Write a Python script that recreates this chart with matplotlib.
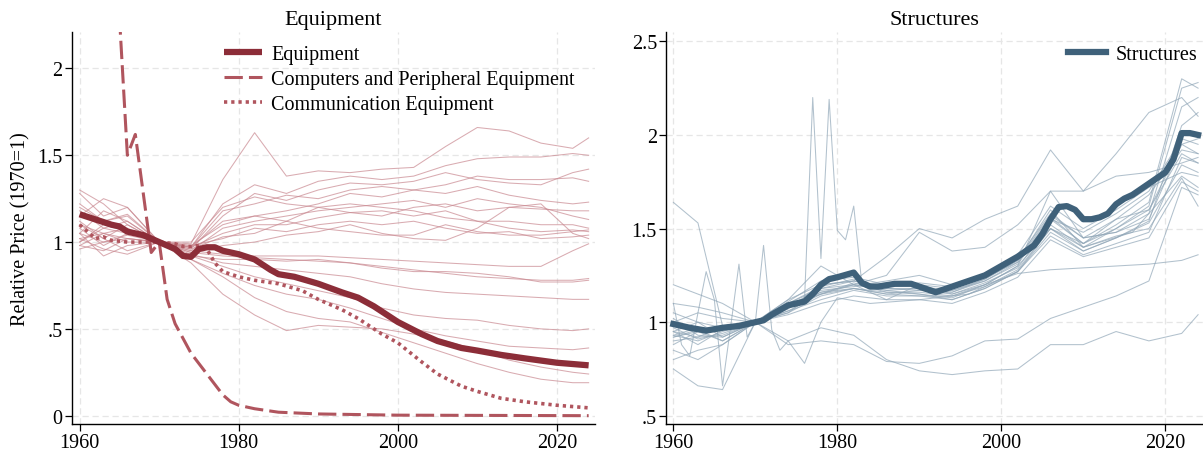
import numpy as np
import matplotlib
matplotlib.use("Agg")
import matplotlib.pyplot as plt

# ── Data ─────────────────────────────────────────────────────────────────────
EQ_YEARS = [1960, 1962, 1964, 1965, 1966, 1968, 1970, 1972, 1973, 1974, 1975, 1976,
            1977, 1978, 1980, 1982, 1984, 1985, 1987, 1990, 1993, 1995, 1997, 2000,
            2003, 2005, 2008, 2010, 2013, 2016, 2020, 2024]
EQUIPMENT = [1.16, 1.13, 1.10, 1.09, 1.06, 1.04, 1.00, 0.96, 0.92, 0.915, 0.96, 0.97,
             0.97, 0.95, 0.93, 0.90, 0.84, 0.815, 0.80, 0.76, 0.71, 0.68, 0.63, 0.54,
             0.47, 0.43, 0.39, 0.375, 0.35, 0.33, 0.305, 0.29]

COMP_YEARS = [1965, 1966, 1967, 1968, 1969, 1970, 1971, 1972, 1974, 1976, 1978, 1979,
              1980, 1982, 1985, 1990, 2000, 2024]
COMPUTERS = [2.30, 1.50, 1.62, 1.28, 0.94, 1.00, 0.67, 0.53, 0.36, 0.24, 0.12, 0.08,
             0.06, 0.04, 0.02, 0.01, 0.003, 0.0]

COMM_YEARS = [1960, 1961, 1962, 1963, 1964, 1966, 1968, 1970, 1972, 1973, 1974, 1975,
              1976, 1977, 1978, 1980, 1982, 1985, 1988, 1990, 1993, 1995, 1998, 2000,
              2003, 2005, 2008, 2010, 2013, 2016, 2020, 2024]
COMMUNICATION = [1.10, 1.06, 1.02, 1.03, 1.01, 1.00, 1.00, 1.00, 0.99, 0.975, 0.975, 0.98,
                 0.96, 0.88, 0.83, 0.80, 0.78, 0.76, 0.72, 0.67, 0.61, 0.56, 0.47, 0.42,
                 0.31, 0.24, 0.17, 0.14, 0.10, 0.08, 0.06, 0.045]

# detailed asset types, sampled on a common grid of years
GRID = [1960, 1963, 1966, 1970, 1974, 1978, 1982, 1986, 1990, 1994, 1998, 2002,
        2006, 2010, 2014, 2018, 2022, 2024]

EQ_DETAIL = [
    [1.20, 1.12, 1.16, 1.00, 0.99, 1.36, 1.63, 1.38, 1.41, 1.40, 1.42, 1.43, 1.55, 1.66, 1.64, 1.57, 1.54, 1.60],
    [1.30, 1.22, 1.10, 1.00, 0.97, 1.22, 1.33, 1.28, 1.35, 1.38, 1.36, 1.38, 1.44, 1.48, 1.49, 1.49, 1.51, 1.50],
    [1.10, 1.05, 1.08, 1.00, 0.96, 1.15, 1.28, 1.24, 1.30, 1.34, 1.33, 1.35, 1.40, 1.36, 1.34, 1.33, 1.40, 1.42],
    [1.05, 1.18, 1.12, 1.00, 0.97, 1.18, 1.22, 1.27, 1.25, 1.30, 1.32, 1.30, 1.33, 1.38, 1.36, 1.36, 1.37, 1.35],
    [1.15, 1.25, 1.20, 1.00, 0.98, 1.10, 1.15, 1.18, 1.22, 1.28, 1.26, 1.30, 1.28, 1.32, 1.27, 1.24, 1.22, 1.23],
    [1.00, 1.08, 1.05, 1.00, 0.95, 1.08, 1.12, 1.15, 1.18, 1.20, 1.22, 1.24, 1.20, 1.25, 1.22, 1.20, 1.15, 1.13],
    [1.12, 1.02, 1.10, 1.00, 0.97, 1.05, 1.10, 1.10, 1.14, 1.17, 1.18, 1.15, 1.18, 1.12, 1.12, 1.10, 1.10, 1.08],
    [0.98, 1.05, 1.02, 1.00, 0.96, 1.03, 1.05, 1.12, 1.20, 1.22, 1.20, 1.18, 1.14, 1.12, 1.08, 1.06, 1.07, 1.06],
    [1.22, 1.12, 1.15, 1.00, 0.98, 1.02, 1.08, 1.06, 1.10, 1.12, 1.10, 1.12, 1.08, 1.05, 1.06, 1.02, 1.03, 1.04],
    [1.08, 0.98, 1.05, 1.00, 0.94, 0.98, 1.00, 1.04, 1.06, 1.10, 1.05, 1.02, 1.01, 1.08, 1.20, 1.22, 1.05, 1.02],
    [1.28, 1.15, 1.20, 1.00, 1.00, 1.20, 1.26, 1.22, 1.20, 1.17, 1.15, 1.20, 1.22, 1.18, 1.20, 1.19, 1.18, 1.18],
    [1.00, 1.10, 1.06, 1.00, 0.97, 1.12, 1.15, 1.12, 1.08, 1.06, 1.04, 1.04, 1.10, 1.06, 1.04, 1.04, 1.06, 1.07],
    [1.05, 1.00, 1.02, 1.00, 0.95, 0.93, 0.92, 0.92, 0.92, 0.91, 0.90, 0.89, 0.88, 0.87, 0.86, 0.86, 0.95, 0.99],
    [1.02, 1.05, 1.00, 1.00, 0.94, 0.92, 0.91, 0.90, 0.89, 0.88, 0.86, 0.84, 0.82, 0.80, 0.79, 0.78, 0.78, 0.79],
    [0.98, 0.95, 1.02, 1.00, 0.92, 0.90, 0.90, 0.89, 0.90, 0.88, 0.85, 0.83, 0.83, 0.82, 0.80, 0.77, 0.77, 0.78],
    [1.10, 1.02, 0.95, 1.00, 0.93, 0.88, 0.86, 0.84, 0.82, 0.80, 0.76, 0.73, 0.71, 0.70, 0.69, 0.68, 0.67, 0.67],
    [1.18, 1.08, 1.12, 1.00, 0.92, 0.86, 0.80, 0.76, 0.72, 0.68, 0.62, 0.58, 0.56, 0.55, 0.52, 0.50, 0.49, 0.50],
    [1.02, 0.96, 0.93, 1.00, 0.90, 0.82, 0.75, 0.70, 0.67, 0.62, 0.56, 0.50, 0.46, 0.43, 0.40, 0.39, 0.38, 0.39],
    [0.96, 1.00, 1.04, 1.00, 0.88, 0.70, 0.58, 0.49, 0.52, 0.51, 0.50, 0.47, 0.43, 0.38, 0.32, 0.28, 0.25, 0.24],
    [1.05, 0.92, 0.98, 1.00, 0.90, 0.80, 0.68, 0.60, 0.56, 0.54, 0.48, 0.42, 0.36, 0.30, 0.25, 0.21, 0.19, 0.19],
]

ST_YEARS = [1960, 1962, 1964, 1966, 1968, 1970, 1971, 1972, 1974, 1975, 1976, 1977,
            1978, 1979, 1980, 1982, 1983, 1984, 1985, 1987, 1989, 1990, 1992, 1994,
            1996, 1998, 2000, 2002, 2004, 2005, 2006, 2007, 2008, 2009, 2010, 2011,
            2012, 2013, 2014, 2015, 2016, 2018, 2020, 2021, 2022, 2023, 2024]
STRUCTURES = [0.99, 0.97, 0.955, 0.97, 0.98, 1.00, 1.01, 1.04, 1.09, 1.10, 1.11, 1.15,
              1.20, 1.23, 1.24, 1.265, 1.21, 1.19, 1.19, 1.205, 1.205, 1.19, 1.16, 1.19,
              1.22, 1.25, 1.30, 1.35, 1.41, 1.47, 1.55, 1.615, 1.62, 1.60, 1.55, 1.55,
              1.56, 1.58, 1.63, 1.66, 1.68, 1.74, 1.80, 1.87, 2.01, 2.01, 2.00]

ST_DETAIL = [
    [0.85, 0.80, 0.88, 1.00, 0.90, 0.97, 0.93, 0.80, 0.74, 0.72, 0.74, 0.75, 0.88, 0.88, 0.95, 0.90, 0.94, 1.04],
    [0.92, 0.95, 0.90, 1.00, 0.88, 0.90, 0.88, 0.79, 0.78, 0.82, 0.90, 0.91, 1.02, 1.08, 1.14, 1.22, 1.72, 1.68],
    [0.95, 0.92, 0.98, 1.00, 1.08, 1.15, 1.18, 1.15, 1.14, 1.14, 1.20, 1.26, 1.28, 1.29, 1.30, 1.31, 1.33, 1.36],
    [1.20, 1.15, 1.10, 1.00, 1.12, 1.20, 1.22, 1.35, 1.50, 1.45, 1.55, 1.62, 1.92, 1.70, 1.78, 1.80, 1.85, 1.88],
    [1.00, 1.05, 1.02, 1.00, 1.06, 1.15, 1.20, 1.25, 1.48, 1.38, 1.40, 1.52, 1.70, 1.70, 1.90, 2.12, 2.20, 2.10],
    [0.93, 0.90, 0.95, 1.00, 1.10, 1.18, 1.22, 1.18, 1.17, 1.16, 1.22, 1.32, 1.56, 1.42, 1.52, 1.64, 2.30, 2.25],
    [0.90, 0.92, 0.93, 1.00, 1.08, 1.16, 1.20, 1.17, 1.18, 1.17, 1.23, 1.33, 1.60, 1.40, 1.50, 1.62, 2.25, 2.28],
    [0.95, 0.88, 0.96, 1.00, 1.07, 1.20, 1.22, 1.19, 1.20, 1.18, 1.24, 1.34, 1.58, 1.45, 1.48, 1.58, 2.15, 2.20],
    [1.02, 0.93, 0.92, 1.00, 1.05, 1.14, 1.18, 1.16, 1.15, 1.13, 1.20, 1.30, 1.50, 1.38, 1.45, 1.54, 2.05, 2.12],
    [0.88, 0.95, 0.98, 1.00, 1.09, 1.17, 1.19, 1.21, 1.19, 1.17, 1.22, 1.31, 1.55, 1.48, 1.58, 1.70, 1.98, 1.95],
    [0.97, 0.91, 0.94, 1.00, 1.10, 1.15, 1.21, 1.16, 1.16, 1.14, 1.19, 1.28, 1.50, 1.42, 1.55, 1.68, 1.92, 1.90],
    [0.92, 0.96, 0.90, 1.00, 1.06, 1.12, 1.17, 1.14, 1.14, 1.12, 1.18, 1.27, 1.46, 1.36, 1.42, 1.48, 1.88, 1.85],
    [1.05, 1.00, 0.97, 1.00, 1.11, 1.22, 1.24, 1.20, 1.21, 1.19, 1.25, 1.36, 1.62, 1.50, 1.60, 1.72, 1.80, 1.78],
    [0.80, 0.85, 0.88, 1.00, 1.04, 1.10, 1.14, 1.12, 1.12, 1.10, 1.16, 1.24, 1.44, 1.35, 1.40, 1.45, 1.75, 1.70],
    [0.93, 0.97, 0.96, 1.00, 1.08, 1.16, 1.18, 1.15, 1.17, 1.15, 1.21, 1.29, 1.52, 1.40, 1.46, 1.50, 1.77, 1.62],
    [0.75, 0.66, 0.64, 1.00, 1.05, 1.18, 1.20, 1.17, 1.15, 1.12, 1.18, 1.27, 1.48, 1.38, 1.45, 1.53, 1.84, 1.80],
    [1.64, 1.53, 0.98, 1.00, 1.10, 1.19, 1.23, 1.18, 1.18, 1.16, 1.23, 1.33, 1.57, 1.45, 1.48, 1.55, 1.95, 1.98],
    [1.10, 1.08, 1.05, 1.00, 1.12, 1.30, 1.20, 1.12, 1.20, 1.15, 1.20, 1.30, 1.70, 1.45, 1.55, 1.60, 1.90, 1.85],
]

# two noisy structure types that need their own years
SPIKE_YEARS = [1960, 1963, 1966, 1970, 1972, 1974, 1976, 1977, 1978, 1979, 1980, 1981,
               1982, 1983, 1986, 1990, 1994, 1998, 2002, 2006, 2010, 2014, 2018, 2022, 2024]
SPIKE_VALS = [0.95, 1.00, 0.92, 1.00, 1.05, 1.10, 1.12, 2.20, 1.34, 2.19, 1.49, 1.44,
              1.62, 1.20, 1.22, 1.25, 1.20, 1.24, 1.32, 1.55, 1.42, 1.50, 1.60, 1.95, 1.90]
NOISY_YEARS = [1960, 1961, 1962, 1963, 1964, 1965, 1966, 1967, 1968, 1969, 1970, 1971,
               1972, 1973, 1974, 1976, 1978, 1980, 1984, 1990, 1996, 2002, 2006, 2010,
               2016, 2022, 2024]
NOISY_VALS = [1.10, 0.88, 0.82, 1.05, 1.27, 1.12, 0.66, 0.98, 1.31, 0.92, 1.00, 1.41,
              0.96, 0.85, 0.90, 0.78, 1.00, 1.13, 1.10, 1.12, 1.15, 1.27, 1.50, 1.40,
              1.48, 1.78, 1.72]

# ── Style ────────────────────────────────────────────────────────────────────
plt.rcParams.update({
    "font.family": "serif",
    "font.serif": ["Liberation Serif", "DejaVu Serif"],
    "font.size": 14,
    "axes.spines.top": False,
    "axes.spines.right": False,
})

RED_DARK = "#8c2d38"
RED_MID = "#b0555e"
RED_THIN = "#c98890"
BLUE_DARK = "#3f617a"
BLUE_THIN = "#91a7b8"
GRID_COL = "#e6e6e6"


def style_axis(ax, yticks, ylabels):
    ax.set_xticks([1960, 1980, 2000, 2020])
    ax.set_yticks(yticks)
    ax.set_yticklabels(ylabels)
    ax.grid(True, color=GRID_COL, linestyle=(0, (5, 3)), linewidth=0.9)
    ax.set_axisbelow(True)
    ax.tick_params(length=5, width=0.9, labelsize=14.5, pad=1.5)
    for s in ("left", "bottom"):
        ax.spines[s].set_linewidth(1.0)


fig = plt.figure(figsize=(12.03, 4.52), dpi=100)

# ── Equipment panel ──────────────────────────────────────────────────────────
ax1 = fig.add_axes([0.0596, 0.0597, 0.435, 0.8673])
for vals in EQ_DETAIL:
    ax1.plot(GRID, vals, color=RED_THIN, lw=0.75, alpha=0.7, zorder=1)
ax1.plot(COMP_YEARS, COMPUTERS, color=RED_MID, lw=2.2, linestyle=(0, (6, 2)),
         label="Computers and Peripheral Equipment", zorder=3)
ax1.plot(COMM_YEARS, COMMUNICATION, color=RED_MID, lw=2.6, linestyle=(0, (0.9, 1.1)),
         label="Communication Equipment", zorder=3)
ax1.plot(EQ_YEARS, EQUIPMENT, color=RED_DARK, lw=4.5, label="Equipment", zorder=4,
         solid_capstyle="butt")
ax1.set_xlim(1959.0, 2024.8)
ax1.set_ylim(-0.048, 2.21)
style_axis(ax1, [0, 0.5, 1, 1.5, 2], ["0", ".5", "1", "1.5", "2"])
ax1.set_ylabel("Relative Price (1970=1)", fontsize=14.5, labelpad=5)
ax1.set_title("Equipment", fontsize=16, pad=6)
h, l = ax1.get_legend_handles_labels()
order = [2, 0, 1]
ax1.legend([h[i] for i in order], [l[i] for i in order], loc="upper left",
           bbox_to_anchor=(0.272, 0.993), frameon=False, fontsize=14.5,
           handlelength=1.9, handletextpad=0.45, labelspacing=0.3, borderaxespad=0.1)

# ── Structures panel ─────────────────────────────────────────────────────────
ax2 = fig.add_axes([0.5536, 0.0597, 0.4464, 0.8673])
for vals in ST_DETAIL:
    ax2.plot(GRID, vals, color=BLUE_THIN, lw=0.75, alpha=0.7, zorder=1)
ax2.plot(SPIKE_YEARS, SPIKE_VALS, color=BLUE_THIN, lw=0.75, alpha=0.7, zorder=1)
ax2.plot(NOISY_YEARS, NOISY_VALS, color=BLUE_THIN, lw=0.75, alpha=0.7, zorder=1)
ax2.plot(ST_YEARS, STRUCTURES, color=BLUE_DARK, lw=4.5, label="Structures", zorder=4)
ax2.set_xlim(1959.1, 2024.6)
ax2.set_ylim(0.456, 2.55)
style_axis(ax2, [0.5, 1, 1.5, 2, 2.5], [".5", "1", "1.5", "2", "2.5"])
ax2.set_title("Structures", fontsize=16, pad=6)
ax2.legend(loc="upper right", bbox_to_anchor=(1.008, 0.993), frameon=False, fontsize=14.5,
           handlelength=1.9, handletextpad=0.45, borderaxespad=0.1)

fig.savefig("out.png", dpi=100)
